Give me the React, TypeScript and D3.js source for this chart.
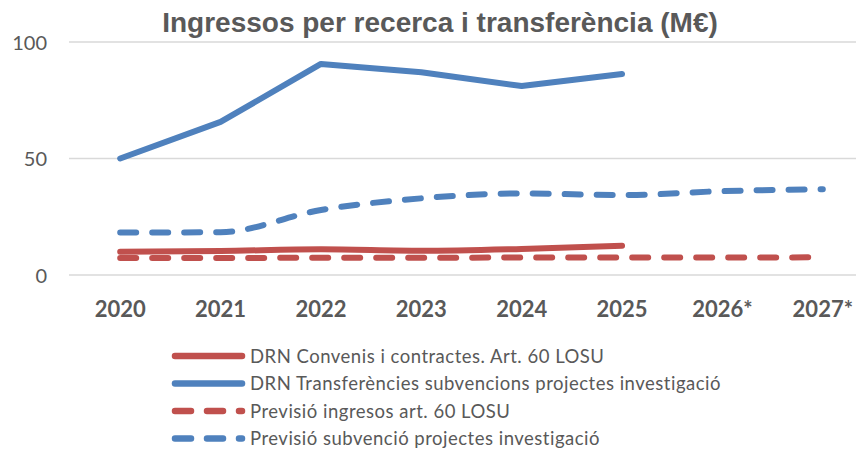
import { useRef, useEffect } from 'react';
import * as d3 from 'd3';

const years = ['2020', '2021', '2022', '2023', '2024', '2025', '2026*', '2027*'];
const yTicks = [0, 50, 100];

// valors llegits del gràfic (M€)
const convenis = [10, 10.3, 11, 10.4, 11.2, 12.6];
const transferencies = [50, 65.7, 90.6, 87, 81.1, 86.3];
const previsioArt60 = [7.3, 7.3, 7.4, 7.4, 7.5, 7.5, 7.5, 7.6];
const previsioSubv = [18.2, 18.4, 27.9, 32.9, 35, 34.3, 36, 36.8];

const series = [
  { name: 'DRN Convenis i contractes. Art. 60 LOSU', values: convenis, color: '#C0504D', dashed: false, smooth: true },
  { name: 'DRN Transferències subvencions projectes investigació', values: transferencies, color: '#4F81BD', dashed: false, smooth: false },
  { name: 'Previsió ingresos art. 60 LOSU', values: previsioArt60, color: '#C0504D', dashed: true, smooth: true },
  { name: 'Previsió subvenció projectes investigació', values: previsioSubv, color: '#4F81BD', dashed: true, smooth: true },
];

const W = 856;
const H = 451;
const textColor = '#595959';

const App = () => {
  const svgRef = useRef<SVGSVGElement>(null);

  useEffect(() => {
    const svg = d3.select(svgRef.current);
    svg.selectAll('*').remove();

    const x = d3.scaleBand<string>().domain(years).range([70, 873]).padding(0);
    const y = d3.scaleLinear().domain([0, 100]).range([275, 42]);
    const cx = (i: number) => (x(years[i]) as number) + x.bandwidth() / 2;

    svg.append('text')
      .attr('x', 440)
      .attr('y', 31.5)
      .attr('text-anchor', 'middle')
      .attr('font-family', '"Liberation Sans", Arial, sans-serif')
      .attr('font-weight', 'bold')
      .attr('font-size', 28)
      .attr('fill', textColor)
      .text('Ingressos per recerca i transferència (M€)');

    // gridlines
    svg.append('g')
      .selectAll('line')
      .data(yTicks)
      .join('line')
      .attr('x1', 69)
      .attr('x2', 873)
      .attr('y1', d => y(d))
      .attr('y2', d => y(d))
      .attr('stroke', '#D9D9D9')
      .attr('stroke-width', 1.5);

    svg.append('g')
      .selectAll('text')
      .data(yTicks)
      .join('text')
      .attr('x', 47)
      .attr('y', d => y(d) + 7.5)
      .attr('text-anchor', 'end')
      .attr('font-family', 'Lato, sans-serif')
      .attr('font-size', 20)
      .attr('fill', textColor)
      .text(d => d);

    svg.append('g')
      .selectAll('text')
      .data(years)
      .join('text')
      .attr('x', (d, i) => cx(i))
      .attr('y', 317)
      .attr('text-anchor', 'middle')
      .attr('font-family', 'Lato, sans-serif')
      .attr('font-weight', 'bold')
      .attr('font-size', 22)
      .attr('fill', textColor)
      .text(d => d);

    const lineGroup = svg.append('g');
    series.forEach(s => {
      const line = d3.line<number>()
        .x((d, i) => cx(i))
        .y(d => y(d))
        .curve(s.smooth ? d3.curveMonotoneX : d3.curveLinear);
      lineGroup.append('path')
        .datum(s.values)
        .attr('d', line)
        .attr('fill', 'none')
        .attr('stroke', s.color)
        .attr('stroke-width', 6)
        .attr('stroke-linecap', 'round')
        .attr('stroke-linejoin', 'round')
        .attr('stroke-dasharray', s.dashed ? '16 16' : null);
    });

    // legend
    const legendRows = [356, 383.5, 411, 438.5];
    const legend = svg.append('g')
      .selectAll('g')
      .data(series)
      .join('g')
      .attr('transform', (d, i) => `translate(0,${legendRows[i]})`);

    legend.append('line')
      .attr('x1', 175)
      .attr('x2', 242)
      .attr('stroke', d => d.color)
      .attr('stroke-width', 6.5)
      .attr('stroke-linecap', 'round')
      .attr('stroke-dasharray', d => d.dashed ? '16 16' : null);

    legend.append('text')
      .attr('x', 250)
      .attr('y', 6.5)
      .attr('font-family', 'Lato, sans-serif')
      .attr('font-size', 18.5)
      .attr('letter-spacing', 0.5)
      .attr('fill', textColor)
      .text(d => d.name);
  }, []);

  return (
    <div style={{ position: 'fixed', left: 0, top: 0 }}>
      <svg ref={svgRef} width={W} height={H} style={{ display: 'block', background: '#fff' }}></svg>
    </div>
  );
};

export default App;
